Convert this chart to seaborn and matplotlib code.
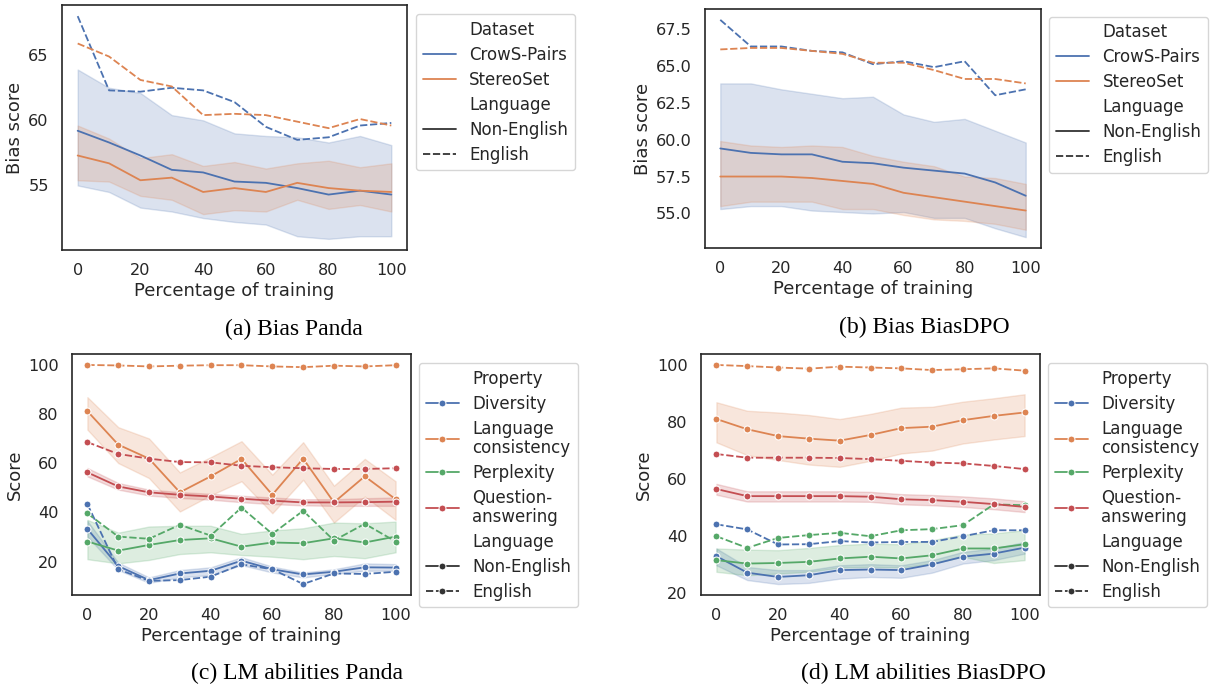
import matplotlib
matplotlib.use("Agg")
import matplotlib.pyplot as plt
import numpy as np
import pandas as pd
import seaborn as sns

X = [0, 10, 20, 30, 40, 50, 60, 70, 80, 90, 100]

# ---------- (a) Bias Panda ----------
A_CROWS_NON = [59.2, 58.3, 57.3, 56.2, 56.0, 55.3, 55.2, 54.8, 54.3, 54.6, 54.3]
A_CROWS_NON_HI = [63.9, 62.5, 62.1, 60.4, 60.0, 59.0, 58.8, 58.7, 58.3, 58.8, 58.1]
A_CROWS_NON_LO = [55.0, 54.5, 53.3, 53.0, 52.5, 52.2, 52.0, 51.1, 50.9, 51.1, 51.1]
A_STEREO_NON = [57.3, 56.7, 55.4, 55.6, 54.5, 54.8, 54.5, 55.2, 54.8, 54.6, 54.5]
A_STEREO_NON_HI = [59.6, 58.6, 57.1, 57.4, 56.5, 56.8, 56.3, 56.7, 56.9, 56.4, 56.7]
A_STEREO_NON_LO = [55.4, 55.3, 54.2, 53.9, 52.8, 53.1, 53.0, 53.9, 53.2, 53.5, 53.0]
A_CROWS_EN = [68.0, 62.3, 62.2, 62.5, 62.3, 61.4, 59.5, 58.5, 58.7, 59.6, 59.8]
A_STEREO_EN = [65.9, 64.9, 63.1, 62.6, 60.4, 60.5, 60.4, 59.9, 59.4, 60.1, 59.6]

# ---------- (b) Bias BiasDPO ----------
B_CROWS_NON = [59.4, 59.1, 59.0, 59.0, 58.5, 58.4, 58.1, 57.9, 57.7, 57.1, 56.2]
B_CROWS_NON_HI = [63.8, 63.8, 63.4, 63.1, 62.8, 62.9, 61.7, 61.2, 61.4, 60.6, 59.8]
B_CROWS_NON_LO = [55.3, 55.5, 55.5, 55.2, 55.1, 55.0, 55.1, 54.7, 54.7, 54.0, 53.4]
B_STEREO_NON = [57.5, 57.5, 57.5, 57.4, 57.2, 57.0, 56.4, 56.1, 55.8, 55.5, 55.2]
B_STEREO_NON_HI = [59.9, 59.6, 59.5, 59.6, 59.5, 58.9, 58.5, 58.2, 57.5, 57.4, 57.0]
B_STEREO_NON_LO = [55.5, 55.8, 55.8, 55.8, 55.3, 55.3, 54.9, 54.6, 54.5, 54.3, 53.9]
B_CROWS_EN = [68.1, 66.3, 66.3, 66.0, 65.9, 65.1, 65.3, 64.9, 65.3, 63.0, 63.4]
B_STEREO_EN = [66.1, 66.2, 66.2, 66.0, 65.8, 65.2, 65.2, 64.7, 64.1, 64.1, 63.8]

# ---------- (c) LM abilities Panda ----------
C_DIV_NON = [33.3, 18.2, 12.5, 15.2, 16.3, 20.4, 16.9, 14.8, 15.9, 17.7, 17.6]
C_DIV_NON_HI = [36.6, 19.6, 13.6, 16.6, 17.7, 21.8, 18.0, 15.6, 16.9, 19.3, 19.0]
C_DIV_NON_LO = [30.2, 16.6, 11.4, 13.6, 14.6, 18.6, 15.6, 13.6, 15.0, 16.3, 16.3]
C_DIV_EN = [43.4, 16.9, 12.2, 12.5, 13.9, 18.9, 16.9, 10.9, 15.2, 15.0, 15.9]
C_LC_NON = [81.2, 67.6, 61.9, 48.2, 54.7, 61.8, 47.2, 61.9, 44.1, 54.7, 45.4]
C_LC_NON_HI = [86.9, 74.7, 70.1, 56.3, 62.5, 69.0, 55.4, 68.6, 50.9, 61.8, 52.7]
C_LC_NON_LO = [73.7, 60.1, 54.0, 40.4, 47.0, 52.7, 39.7, 53.3, 35.9, 46.5, 37.0]
C_LC_EN = [100.0, 99.8, 99.4, 99.7, 99.9, 99.9, 99.4, 99.1, 99.7, 99.4, 99.9]
C_PPL_NON = [28.2, 24.5, 26.8, 28.8, 29.5, 26.1, 27.8, 27.5, 29.5, 27.8, 30.2]
C_PPL_NON_HI = [37.0, 31.8, 34.3, 34.6, 34.6, 31.3, 32.7, 33.6, 35.9, 35.6, 36.3]
C_PPL_NON_LO = [21.0, 19.3, 20.7, 23.1, 23.8, 22.7, 22.0, 21.0, 22.3, 21.4, 23.8]
C_PPL_EN = [39.6, 30.2, 29.3, 35.0, 30.6, 42.0, 31.3, 40.7, 28.6, 35.4, 28.2]
C_QA_NON = [56.3, 50.6, 48.2, 47.2, 46.5, 45.6, 44.8, 44.1, 44.1, 44.2, 44.4]
C_QA_NON_HI = [58.1, 52.0, 49.3, 48.3, 47.6, 46.8, 46.1, 45.4, 45.4, 45.8, 46.1]
C_QA_NON_LO = [54.7, 49.3, 46.9, 45.9, 45.2, 44.2, 43.4, 42.9, 42.7, 42.7, 42.7]
C_QA_EN = [68.6, 63.8, 61.9, 60.5, 60.4, 59.0, 58.4, 58.0, 57.7, 57.7, 58.0]

# ---------- (d) LM abilities BiasDPO ----------
D_DIV_NON = [32.8, 27.0, 25.5, 26.1, 27.9, 28.1, 27.9, 29.9, 32.6, 33.7, 35.8]
D_DIV_NON_HI = [35.5, 29.0, 27.9, 27.9, 29.6, 30.0, 29.6, 31.4, 34.3, 35.5, 37.8]
D_DIV_NON_LO = [29.6, 24.4, 23.0, 23.4, 24.9, 25.5, 25.2, 27.0, 30.2, 31.4, 33.7]
D_DIV_EN = [44.0, 42.2, 36.9, 37.0, 38.1, 37.6, 37.8, 37.8, 39.8, 41.9, 41.9]
D_LC_NON = [81.0, 77.4, 75.0, 74.1, 73.4, 75.4, 77.8, 78.3, 80.6, 82.1, 83.3]
D_LC_NON_HI = [86.9, 83.9, 83.3, 82.4, 81.0, 82.8, 85.0, 85.3, 87.1, 88.3, 89.7]
D_LC_NON_LO = [72.8, 68.3, 66.6, 65.0, 64.2, 66.3, 68.9, 69.9, 72.4, 73.8, 75.0]
D_LC_EN = [100.0, 99.6, 99.1, 98.7, 99.4, 99.1, 98.8, 98.2, 98.5, 98.8, 98.0]
D_PPL_NON = [31.4, 30.2, 30.4, 30.8, 32.0, 32.6, 32.0, 33.1, 35.5, 35.5, 37.0]
D_PPL_NON_HI = [35.5, 35.1, 34.9, 35.7, 36.7, 37.2, 37.0, 38.4, 40.4, 40.8, 41.9]
D_PPL_NON_LO = [27.3, 26.1, 26.7, 27.3, 28.8, 29.0, 28.8, 30.2, 32.6, 30.4, 31.4]
D_PPL_EN = [39.8, 35.7, 39.2, 40.2, 41.0, 39.8, 41.9, 42.3, 43.7, 51.0, 50.7]
D_QA_NON = [56.4, 53.9, 53.9, 53.9, 53.9, 53.7, 52.8, 52.5, 51.9, 51.1, 50.1]
D_QA_NON_HI = [58.2, 55.6, 55.6, 55.6, 55.6, 55.4, 54.6, 54.3, 53.8, 53.1, 52.1]
D_QA_NON_LO = [54.4, 52.0, 52.0, 52.0, 52.0, 51.9, 51.0, 50.7, 50.1, 49.3, 48.3]
D_QA_EN = [68.7, 67.4, 67.4, 67.4, 67.3, 66.9, 66.3, 65.7, 65.4, 64.5, 63.4]

DATASETS = ["CrowS-Pairs", "StereoSet"]
PROPERTIES = ["Diversity", "Language\nconsistency", "Perplexity", "Question-\nanswering"]
LANGUAGES = ["Non-English", "English"]
CAPTIONS = ["(a) Bias Panda", "(b) Bias BiasDPO", "(c) LM abilities Panda", "(d) LM abilities BiasDPO"]
XLABEL = "Percentage of training"


def long_frame(hue_col, ycol, groups):
    """groups: list of (hue value, non-English (lo, mid, hi), English values)."""
    rows = []
    for name, (lo, mid, hi), en in groups:
        for i, x in enumerate(X):
            for v in (lo[i], mid[i], hi[i]):
                rows.append({XLABEL: x, ycol: v, hue_col: name, "Language": "Non-English"})
            rows.append({XLABEL: x, ycol: en[i], hue_col: name, "Language": "English"})
    return pd.DataFrame(rows)


df_a = long_frame("Dataset", "Bias score", [
    ("CrowS-Pairs", (A_CROWS_NON_LO, A_CROWS_NON, A_CROWS_NON_HI), A_CROWS_EN),
    ("StereoSet", (A_STEREO_NON_LO, A_STEREO_NON, A_STEREO_NON_HI), A_STEREO_EN),
])
df_b = long_frame("Dataset", "Bias score", [
    ("CrowS-Pairs", (B_CROWS_NON_LO, B_CROWS_NON, B_CROWS_NON_HI), B_CROWS_EN),
    ("StereoSet", (B_STEREO_NON_LO, B_STEREO_NON, B_STEREO_NON_HI), B_STEREO_EN),
])
df_c = long_frame("Property", "Score", [
    (PROPERTIES[0], (C_DIV_NON_LO, C_DIV_NON, C_DIV_NON_HI), C_DIV_EN),
    (PROPERTIES[1], (C_LC_NON_LO, C_LC_NON, C_LC_NON_HI), C_LC_EN),
    (PROPERTIES[2], (C_PPL_NON_LO, C_PPL_NON, C_PPL_NON_HI), C_PPL_EN),
    (PROPERTIES[3], (C_QA_NON_LO, C_QA_NON, C_QA_NON_HI), C_QA_EN),
])
df_d = long_frame("Property", "Score", [
    (PROPERTIES[0], (D_DIV_NON_LO, D_DIV_NON, D_DIV_NON_HI), D_DIV_EN),
    (PROPERTIES[1], (D_LC_NON_LO, D_LC_NON, D_LC_NON_HI), D_LC_EN),
    (PROPERTIES[2], (D_PPL_NON_LO, D_PPL_NON, D_PPL_NON_HI), D_PPL_EN),
    (PROPERTIES[3], (D_QA_NON_LO, D_QA_NON, D_QA_NON_HI), D_QA_EN),
])

sns.set_theme(style="white", palette="deep", rc={
    "xtick.labelsize": 11.6,
    "ytick.labelsize": 11.6,
    "axes.labelsize": 13,
    "legend.fontsize": 12,
    "legend.labelspacing": 0.42,
    "axes.edgecolor": ".15",
    "axes.linewidth": 1.2,
    "axes.labelpad": 3.0,
})

W, H = 1210, 688
fig = plt.figure(figsize=(W / 100, H / 100), dpi=100)


def px_axes(left, top, right, bottom):
    return fig.add_axes([left / W, 1 - bottom / H, (right - left) / W, (bottom - top) / H])


ax_a = px_axes(62, 5, 407, 250)
ax_b = px_axes(705, 9, 1041, 248)
ax_c = px_axes(72, 354, 411, 595)
ax_d = px_axes(701, 354, 1040, 595)

common = dict(x=XLABEL, style="Language", style_order=LANGUAGES,
              estimator="median", errorbar=("pi", 100), linewidth=1.3)

sns.lineplot(data=df_a, y="Bias score", hue="Dataset", hue_order=DATASETS, ax=ax_a, **common)
sns.lineplot(data=df_b, y="Bias score", hue="Dataset", hue_order=DATASETS, ax=ax_b, **common)
sns.lineplot(data=df_c, y="Score", hue="Property", hue_order=PROPERTIES, ax=ax_c,
             marker="o", markersize=5, **common)
sns.lineplot(data=df_d, y="Score", hue="Property", hue_order=PROPERTIES, ax=ax_d,
             marker="o", markersize=5, **common)

for ax, (lx, ly) in zip([ax_a, ax_b, ax_c, ax_d],
                        [(1.026, 0.963), (1.024, 0.968), (1.024, 0.963), (1.024, 0.963)]):
    sns.move_legend(ax, "upper left", bbox_to_anchor=(lx, ly), borderaxespad=0, frameon=True)
    for t in ax.get_legend().get_texts():
        t.set_linespacing(1.08)
    ax.set_xticks([0, 20, 40, 60, 80, 100])

cap_kw = dict(ha="center", va="center", family=["Liberation Serif", "DejaVu Serif"],
              size=17, color="black")
fig.text(294 / W, 1 - 329 / H, CAPTIONS[0], **cap_kw)
fig.text(924 / W, 1 - 327 / H, CAPTIONS[1], **cap_kw)
fig.text(297 / W, 1 - 673 / H, CAPTIONS[2], **cap_kw)
fig.text(923 / W, 1 - 673 / H, CAPTIONS[3], **cap_kw)

fig.savefig("out.png", dpi=100)
